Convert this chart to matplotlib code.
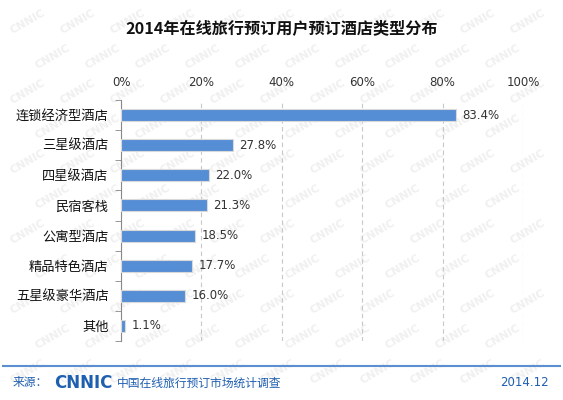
import matplotlib
matplotlib.use("Agg")
import matplotlib.pyplot as plt

plt.rcParams['font.family'] = ['Noto Sans CJK SC', 'DejaVu Sans']

categories = ["连锁经济型酒店", "三星级酒店", "四星级酒店", "民宿客栈",
              "公寓型酒店", "精品特色酒店", "五星级豪华酒店", "其他"]
values = [83.4, 27.8, 22.0, 21.3, 18.5, 17.7, 16.0, 1.1]
xticks = [0, 20, 40, 60, 80, 100]
xtick_labels = ["0%", "20%", "40%", "60%", "80%", "100%"]

blue = "#558ed5"
footer_blue = "#1f5fb0"

W, H = 563, 400
fig = plt.figure(figsize=(5.63, 4.0), dpi=100)
fig.patch.set_facecolor("white")

# faint CNNIC watermark behind everything
for row in range(11):
    y = 22 + row * 35
    off = 25 if row % 2 else 0
    for col in range(11):
        x = 28 + off + col * 50
        if x > W - 28:
            continue
        fig.text(x / W, 1 - y / H, "CNNIC", fontsize=8, fontweight="bold", color="#f0f0f0",
                 rotation=30, ha="center", va="center", family="DejaVu Sans", zorder=-5)

ax = fig.add_axes([0.215, 0.1475, 0.714, 0.6025])
ax.set_facecolor("none")
ypos = list(range(len(categories)))
ax.barh(ypos, values, height=0.4, color=blue, edgecolor="#d9d9d9", linewidth=0.8, zorder=3)
for y, v in zip(ypos, values):
    ax.text(v + 1.5, y, f"{v:.1f}%", va="center", ha="left", fontsize=8.5, color="#333333",
            family="DejaVu Sans", zorder=4)

ax.set_xlim(0, 100)
ax.set_ylim(len(categories) - 0.5, -0.5)
ax.xaxis.tick_top()
ax.set_xticks(xticks)
ax.set_xticklabels(xtick_labels, fontsize=8.5, color="#333333", family="DejaVu Sans")
ax.tick_params(axis="x", length=0, pad=8)
ax.set_yticks(ypos)
ax.set_yticklabels(categories, fontsize=9.5, color="#111111")
ax.set_yticks([i - 0.5 for i in range(len(categories) + 1)], minor=True)
ax.tick_params(axis="y", which="major", length=0, pad=9)
ax.tick_params(axis="y", which="minor", length=4, color="#888888")
ax.grid(axis="x", linestyle=(0, (4, 3)), color="#c8c8c8", linewidth=0.8, zorder=0)
for s in ["top", "right", "bottom"]:
    ax.spines[s].set_visible(False)
ax.spines["left"].set_color("#888888")

fig.text(0.5, 0.93, "2014年在线旅行预订用户预订酒店类型分布", ha="center", va="center",
         fontsize=11.6, fontweight="bold", color="#111111")

fig.add_artist(plt.Line2D([0.005, 0.995], [0.085, 0.085], color="#5b8fd0", linewidth=1.5))
fig.text(0.022, 0.043, "来源：", fontsize=8.5, color=footer_blue, va="center")
fig.text(0.097, 0.043, "CNNIC", fontsize=12, fontweight="bold", color=footer_blue,
         va="center", family="DejaVu Sans")
fig.text(0.208, 0.043, "中国在线旅行预订市场统计调查", fontsize=8.5, color=footer_blue, va="center")
fig.text(0.975, 0.043, "2014.12", fontsize=8.5, color=footer_blue, va="center", ha="right",
         family="DejaVu Sans")

fig.savefig("out.png", dpi=100)
